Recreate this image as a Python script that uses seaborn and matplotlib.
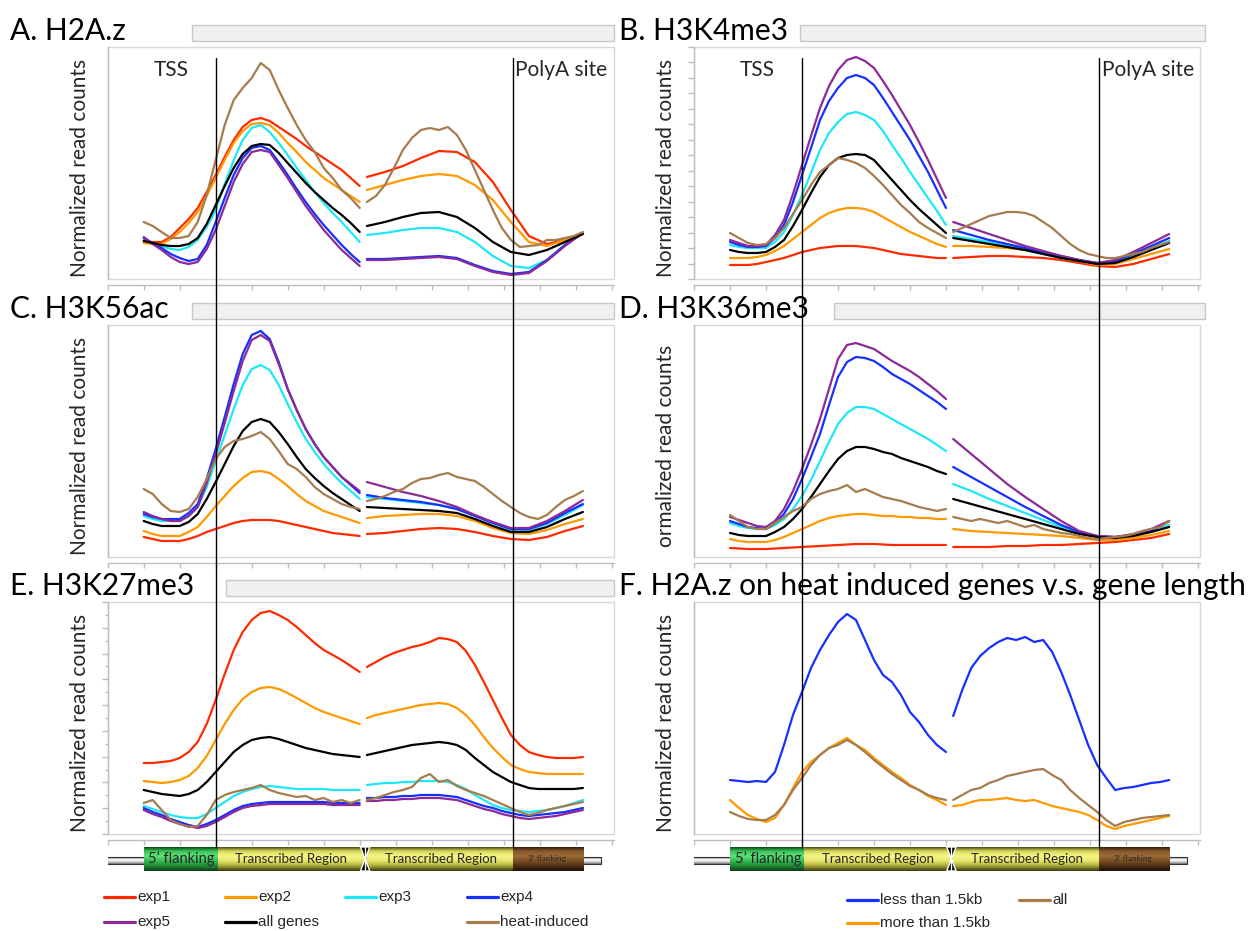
import numpy as np
import pandas as pd
import matplotlib
matplotlib.use("Agg")
import matplotlib.pyplot as plt
import matplotlib.transforms as mtransforms
from matplotlib.patches import Rectangle, Polygon
from matplotlib.lines import Line2D
from matplotlib.colors import LinearSegmentedColormap
import seaborn as sns

# ---------------------------------------------------------------------------
# Metagene bins: 5' flank + first half of the gene body on the left segment,
# second half of the gene body + 3' flank on the right segment.
# ---------------------------------------------------------------------------
BINS_LEFT = np.linspace(1.0, 7.0, 13)
BINS_RIGHT = np.linspace(7.2, 13.2, 13)
BINS_LEFT_FINE = np.linspace(1.0, 7.0, 25)
BINS_RIGHT_FINE = np.linspace(7.2, 13.2, 25)
TSS_BIN = 3.0
POLYA_BIN = 11.25

SERIES = ["exp1", "exp2", "exp3", "exp4", "exp5", "all genes", "heat-induced"]
COLORS = ["#ff2a00", "#ff9900", "#1ee8f5", "#1530ff", "#8c2a98", "#000000", "#a67c4e"]
LENGTH_SERIES = ["less than 1.5kb", "more than 1.5kb", "all"]
LENGTH_COLORS = ["#1530ff", "#ff9900", "#a67c4e"]

# A. H2A.z  (left segment, right segment)
H2AZ_EXP1 = ([37, 37, 37, 42, 51, 60, 71, 87, 104, 122, 139, 152, 159, 161, 158, 152,
              146, 140, 133, 127, 121, 115, 109, 101, 93],
             [102, 107, 113, 121, 128, 127, 117, 97, 69, 43, 35, 39, 46])
H2AZ_EXP2 = ([36, 35, 35, 40, 47, 56, 67, 83, 101, 119, 136, 148, 155, 156, 154, 146,
              136, 127, 117, 109, 101, 95, 89, 83, 77],
             [89, 94, 99, 103, 105, 103, 94, 79, 57, 37, 33, 39, 46])
H2AZ_EXP3 = ([39, 36, 33, 30, 29, 32, 39, 52, 69, 95, 119, 139, 151, 154, 147, 136,
              124, 111, 99, 87, 76, 66, 57, 47, 37],
             [44, 46, 49, 51, 51, 47, 37, 23, 13, 11, 19, 34, 46])
H2AZ_EXP4 = ([41, 36, 31, 25, 21, 18, 20, 34, 57, 81, 104, 121, 131, 133, 129, 117,
              104, 90, 77, 65, 54, 44, 34, 25, 17],
             [20, 20, 21, 22, 23, 21, 14, 8, 5, 7, 19, 34, 46])
H2AZ_EXP5 = ([42, 35, 29, 22, 17, 15, 17, 30, 49, 73, 97, 115, 127, 129, 127, 114,
              101, 87, 73, 61, 49, 39, 29, 21, 13],
             [19, 19, 20, 21, 22, 20, 13, 7, 4, 6, 18, 33, 46])
H2AZ_ALL = ([38, 36, 34, 33, 33, 35, 41, 55, 74, 93, 111, 125, 133, 135, 134, 126,
             116, 106, 96, 87, 79, 71, 64, 56, 47],
            [53, 57, 62, 66, 67, 62, 51, 37, 27, 24, 29, 37, 45])
H2AZ_HEAT = ([57, 53, 47, 41, 41, 43, 57, 84, 119, 154, 179, 191, 201, 216, 209, 189,
              171, 154, 139, 127, 111, 101, 89, 81, 71],
             [77, 83, 94, 111, 129, 141, 149, 151, 149, 152, 144, 129, 109, 89, 69, 51,
              39, 32, 33, 34, 39, 39, 41, 43, 47])

# B. H3K4me3
H3K4_EXP1 = ([14, 14, 14, 15, 17, 19, 21, 24, 27, 29, 31, 32, 33, 33, 33, 32,
              31, 29, 27, 25, 24, 23, 22, 21, 21],
             [21, 22, 23, 23, 22, 21, 19, 16, 13, 12, 15, 20, 25])
H3K4_EXP2 = ([21, 21, 21, 22, 24, 28, 33, 40, 47, 54, 61, 66, 69, 71, 71, 70,
              67, 62, 57, 52, 47, 43, 39, 35, 32],
             [33, 33, 32, 31, 29, 26, 22, 18, 14, 15, 20, 25, 30])
H3K4_EXP3 = ([34, 32, 31, 31, 31, 37, 47, 64, 84, 106, 129, 146, 157, 165, 167, 164,
              159, 148, 134, 121, 107, 94, 81, 68, 54],
             [43, 40, 37, 33, 29, 25, 21, 18, 16, 17, 23, 31, 38])
H3K4_EXP4 = ([37, 34, 32, 32, 33, 41, 54, 77, 104, 131, 159, 178, 191, 201, 204, 201,
              194, 181, 167, 153, 139, 123, 107, 89, 71],
             [49, 44, 39, 35, 31, 27, 23, 19, 16, 18, 25, 33, 41])
H3K4_EXP5 = ([39, 36, 33, 33, 34, 44, 59, 85, 114, 143, 171, 193, 209, 219, 222, 218,
              211, 198, 184, 169, 154, 137, 119, 100, 81],
             [57, 51, 45, 39, 33, 28, 23, 19, 16, 19, 27, 36, 45])
H3K4_ALL = ([29, 27, 26, 26, 27, 32, 39, 53, 69, 86, 102, 114, 121, 124, 125, 124,
             119, 109, 99, 89, 79, 70, 62, 54, 46],
            [41, 38, 35, 32, 29, 25, 21, 18, 15, 16, 22, 29, 36])
H3K4_HEAT = ([46, 41, 36, 34, 35, 41, 51, 65, 79, 94, 107, 114, 121, 119, 116, 111,
              103, 94, 84, 74, 66, 57, 51, 46, 41],
             [47, 51, 55, 59, 63, 65, 67, 67, 66, 63, 57, 51, 43, 35, 29, 25,
              23, 21, 21, 23, 25, 27, 31, 34, 37])

# C. H3K56ac
H3K56_EXP1 = ([20, 18, 16, 16, 16, 18, 21, 25, 28, 31, 34, 36, 37, 37, 37, 36,
               34, 32, 30, 28, 26, 24, 23, 22, 21],
              [23, 24, 26, 28, 29, 28, 25, 21, 18, 17, 20, 26, 31])
H3K56_EXP2 = ([26, 23, 21, 21, 21, 25, 30, 40, 51, 61, 71, 79, 85, 86, 84, 78,
               71, 63, 56, 51, 46, 43, 40, 37, 34],
              [39, 41, 42, 43, 43, 41, 36, 29, 24, 23, 27, 33, 38])
H3K56_EXP3 = ([41, 38, 36, 36, 36, 41, 50, 70, 96, 122, 148, 172, 188, 192, 187, 172,
               153, 135, 118, 105, 93, 83, 74, 66, 58],
              [60, 58, 56, 54, 52, 48, 41, 34, 27, 27, 33, 42, 52])
H3K56_EXP4 = ([43, 40, 38, 38, 38, 44, 53, 78, 108, 140, 173, 203, 222, 226, 218, 195,
               168, 147, 128, 113, 100, 90, 80, 72, 64],
              [62, 59, 57, 55, 52, 48, 41, 34, 28, 28, 34, 44, 53])
H3K56_EXP5 = ([45, 41, 38, 36, 36, 41, 50, 74, 103, 134, 166, 196, 217, 222, 216, 193,
               168, 147, 128, 113, 100, 90, 80, 73, 66],
              [75, 70, 65, 61, 56, 50, 42, 35, 29, 29, 36, 46, 57])
H3K56_ALL = ([36, 33, 31, 31, 31, 35, 43, 58, 75, 93, 111, 126, 135, 138, 135, 125,
              113, 100, 88, 79, 71, 64, 58, 52, 46],
             [50, 49, 48, 47, 46, 44, 38, 31, 25, 25, 30, 38, 45])
H3K56_HEAT = ([68, 63, 53, 46, 45, 48, 60, 78, 98, 110, 116, 118, 121, 125, 118, 106,
               93, 88, 80, 70, 63, 58, 53, 50, 48],
              [56, 58, 61, 65, 68, 74, 78, 79, 82, 84, 80, 78, 76, 70, 63, 56,
               50, 44, 40, 38, 42, 50, 57, 61, 66])

# D. H3K36me3
H3K36_EXP1 = ([9, 8, 8, 9, 10, 11, 12, 13, 13, 12, 12, 12, 12],
              [10, 10, 10, 11, 11, 12, 12, 13, 14, 15, 17, 19, 23])
H3K36_EXP2 = ([18, 16, 15, 15, 15, 17, 20, 24, 28, 32, 36, 39, 41, 42, 43, 43,
               42, 41, 41, 40, 40, 39, 39, 38, 38],
              [28, 26, 25, 24, 23, 22, 21, 19, 17, 17, 19, 22, 26])
H3K36_EXP3 = ([34, 31, 29, 28, 28, 32, 38, 48, 61, 77, 96, 115, 133, 144, 150, 150,
               148, 143, 138, 133, 128, 123, 118, 112, 106],
              [73, 66, 58, 51, 44, 37, 30, 24, 20, 20, 22, 26, 32])
H3K36_EXP4 = ([36, 33, 30, 29, 28, 34, 43, 58, 78, 100, 123, 152, 180, 195, 200, 199,
               196, 190, 183, 178, 173, 167, 161, 155, 148],
              [90, 80, 70, 60, 50, 41, 32, 25, 21, 20, 22, 26, 36])
H3K36_EXP5 = ([40, 37, 34, 31, 30, 36, 48, 66, 88, 112, 138, 168, 198, 212, 214, 211,
               208, 202, 196, 191, 186, 180, 173, 166, 158],
              [118, 103, 88, 73, 60, 48, 36, 26, 21, 20, 23, 28, 36])
H3K36_ALL = ([24, 22, 21, 21, 21, 25, 30, 38, 48, 60, 73, 86, 98, 106, 110, 110,
              108, 105, 103, 99, 96, 93, 90, 86, 83],
             [58, 53, 48, 43, 38, 33, 28, 23, 20, 19, 21, 25, 30])
H3K36_HEAT = ([42, 36, 30, 28, 28, 34, 40, 46, 50, 58, 63, 66, 68, 72, 65, 68,
               64, 60, 58, 56, 53, 50, 48, 46, 48],
              [40, 38, 36, 38, 36, 34, 36, 33, 30, 32, 28, 26, 24, 23, 21, 19,
               18, 19, 20, 21, 23, 26, 28, 30, 36])

# E. H3K27me3
H3K27_EXP1 = ([71, 71, 72, 73, 76, 82, 92, 110, 134, 160, 184, 202, 214, 221, 223, 219,
               214, 207, 199, 191, 184, 179, 174, 168, 162],
              [167, 172, 177, 181, 184, 187, 189, 192, 196, 195, 192, 183, 169, 152, 134, 116,
               99, 89, 82, 79, 77, 76, 76, 76, 77])
H3K27_EXP2 = ([53, 52, 51, 52, 54, 58, 66, 78, 94, 110, 124, 135, 142, 146, 147, 145,
               141, 136, 131, 126, 122, 119, 116, 113, 110],
              [116, 119, 121, 123, 125, 127, 129, 130, 131, 130, 126, 119, 109, 97, 86, 77,
               69, 65, 62, 61, 60, 60, 60, 60, 60])
H3K27_EXP3 = ([28, 25, 22, 19, 17, 16, 16, 20, 26, 32, 38, 42, 45, 47, 48, 47,
               46, 45, 45, 45, 45, 44, 44, 44, 44],
              [49, 50, 51, 51, 52, 52, 53, 53, 53, 52, 49, 45, 39, 34, 29, 26,
               24, 23, 22, 23, 24, 26, 28, 31, 34])
H3K27_EXP4 = ([26, 22, 19, 15, 12, 9, 7, 10, 14, 19, 24, 28, 30, 31, 32, 32,
               32, 32, 32, 32, 32, 31, 31, 31, 31],
              [36, 36, 37, 37, 38, 38, 39, 39, 39, 38, 37, 34, 31, 28, 26, 23,
               21, 19, 18, 19, 20, 21, 22, 24, 26])
H3K27_EXP5 = ([24, 20, 17, 13, 10, 8, 6, 8, 12, 17, 22, 26, 28, 29, 30, 30,
               30, 30, 30, 30, 30, 29, 29, 29, 29],
              [33, 33, 34, 34, 35, 35, 36, 36, 36, 35, 34, 31, 28, 25, 23, 20,
               18, 16, 15, 16, 17, 18, 20, 22, 24])
H3K27_ALL = ([44, 42, 40, 39, 38, 40, 44, 52, 62, 72, 82, 89, 94, 96, 97, 95,
              92, 89, 86, 84, 82, 80, 79, 78, 77],
             [79, 81, 83, 85, 87, 89, 90, 91, 92, 91, 89, 84, 76, 69, 62, 57,
              52, 49, 46, 45, 45, 45, 45, 45, 46])
H3K27_HEAT = ([31, 34, 24, 14, 10, 7, 8, 19, 34, 39, 42, 44, 46, 49, 44, 41,
               39, 37, 38, 34, 36, 32, 34, 31, 34],
              [34, 36, 39, 42, 44, 47, 56, 60, 52, 54, 48, 44, 41, 38, 34, 30,
               26, 22, 19, 21, 24, 26, 28, 30, 32])

# F. H2A.z on heat induced genes, split by gene length
LEN_SHORT = ([54, 53, 52, 53, 52, 62, 89, 119, 142, 166, 184, 199, 212, 220, 214, 194,
              174, 159, 152, 139, 122, 112, 99, 89, 82],
             [118, 144, 166, 178, 186, 192, 196, 194, 197, 192, 194, 182, 162, 139, 114, 89,
              69, 56, 44, 46, 47, 49, 51, 52, 54])
LEN_LONG = ([34, 26, 19, 15, 12, 16, 29, 46, 62, 72, 79, 86, 91, 96, 89, 84,
             76, 69, 62, 56, 49, 44, 38, 34, 29],
            [28, 29, 32, 34, 34, 35, 36, 34, 33, 34, 31, 28, 26, 24, 22, 19,
             14, 8, 5, 8, 10, 12, 14, 16, 18])
LEN_ALL = ([22, 18, 15, 14, 14, 19, 29, 44, 56, 69, 79, 86, 89, 94, 89, 82,
            74, 67, 60, 54, 48, 44, 39, 36, 34],
           [34, 39, 44, 46, 51, 54, 58, 60, 62, 64, 65, 59, 54, 44, 36, 29,
            22, 14, 8, 12, 14, 16, 17, 18, 19])

PANELS = [
    dict(title="A. H2A.z", ylabel="Normalized read counts", col=0, row=0, marks=True,
         yticks=None, bar=(192, 614),
         data=dict(zip(SERIES, [H2AZ_EXP1, H2AZ_EXP2, H2AZ_EXP3, H2AZ_EXP4, H2AZ_EXP5,
                                H2AZ_ALL, H2AZ_HEAT]))),
    dict(title="B. H3K4me3", ylabel="Normalized read counts", col=1, row=0, marks=True,
         yticks=(15, 0), bar=(800, 1205),
         data=dict(zip(SERIES, [H3K4_EXP1, H3K4_EXP2, H3K4_EXP3, H3K4_EXP4, H3K4_EXP5,
                                H3K4_ALL, H3K4_HEAT]))),
    dict(title="C. H3K56ac", ylabel="Normalized read counts", col=0, row=1, marks=False,
         yticks=None, bar=(192, 614),
         data=dict(zip(SERIES, [H3K56_EXP1, H3K56_EXP2, H3K56_EXP3, H3K56_EXP4, H3K56_EXP5,
                                H3K56_ALL, H3K56_HEAT]))),
    dict(title="D. H3K36me3", ylabel="ormalized read counts", col=1, row=1, marks=False,
         yticks=None, bar=(834, 1205),
         data=dict(zip(SERIES, [H3K36_EXP1, H3K36_EXP2, H3K36_EXP3, H3K36_EXP4, H3K36_EXP5,
                                H3K36_ALL, H3K36_HEAT]))),
    dict(title="E. H3K27me3", ylabel="Normalized read counts", col=0, row=2, marks=False,
         yticks=(9, 18), bar=(226, 614),
         data=dict(zip(SERIES, [H3K27_EXP1, H3K27_EXP2, H3K27_EXP3, H3K27_EXP4, H3K27_EXP5,
                                H3K27_ALL, H3K27_HEAT]))),
    dict(title="F. H2A.z on heat induced genes v.s. gene length",
         ylabel="Normalized read counts", col=1, row=2, marks=False,
         yticks=None, bar=None,
         data=dict(zip(LENGTH_SERIES, [LEN_SHORT, LEN_LONG, LEN_ALL]))),
]

# ---------------------------------------------------------------------------
sns.set_theme(style="white")
plt.rcParams["font.family"] = ["Lato", "DejaVu Sans"]

W, H = 1258, 931
fig = plt.figure(figsize=(W / 100, H / 100), dpi=100)
fig.patch.set_facecolor("white")

COL_LEFT = [107.7, 694.0]
AX_W = 505.8
ROW_TOP = [47, 325, 602]
AX_H = 232
XMAX = 14.05
YMAX = 232
FRAME = "#d9d9d9"
AXIS = "#bdbdbd"


def fig_rect(left, top, width, height):
    return [left / W, 1 - (top + height) / H, width / W, height / H]


def long_table(series):
    rows = []
    for name, (left, right) in series.items():
        for seg, vals in (("L", left), ("R", right)):
            if seg == "L":
                xs = BINS_LEFT if len(vals) == 13 else BINS_LEFT_FINE
            else:
                xs = BINS_RIGHT if len(vals) == 13 else BINS_RIGHT_FINE
            for xv, yv in zip(xs, vals):
                rows.append((name, name + "_" + seg, xv, yv))
    return pd.DataFrame(rows, columns=["series", "segment", "bin", "signal"])


col_axes = {0: [], 1: []}
for p in PANELS:
    left = COL_LEFT[p["col"]]
    top = ROW_TOP[p["row"]]
    ax = fig.add_axes(fig_rect(left, top, AX_W, AX_H))
    col_axes[p["col"]].append(ax)
    df = long_table(p["data"])
    names = list(p["data"].keys())
    if names == LENGTH_SERIES:
        pal = dict(zip(LENGTH_SERIES, LENGTH_COLORS))
    else:
        pal = dict(zip(SERIES, COLORS))
    sns.lineplot(data=df, x="bin", y="signal", hue="series", hue_order=names,
                 units="segment", estimator=None, sort=False, palette=pal,
                 linewidth=1.6, legend=False, ax=ax)
    ax.set_xlim(0, XMAX)
    ax.set_ylim(0, YMAX)
    ax.set_xlabel("")
    ax.set_ylabel("")
    ax.set_facecolor("none")
    for side in ("top", "right"):
        ax.spines[side].set_visible(False)
    ax.add_patch(Rectangle((0, 0), 1, 1, transform=ax.transAxes, fill=False,
                           edgecolor=FRAME, lw=1.0, clip_on=False, zorder=0))
    ax.spines["bottom"].set_position(("outward", 4.3))
    ax.spines["bottom"].set_color(AXIS)
    ax.spines["bottom"].set_linewidth(1.0)
    ax.spines["left"].set_color(AXIS)
    ax.spines["left"].set_linewidth(1.0)
    ax.set_xticks(np.arange(0, 15))
    ax.tick_params(axis="x", direction="out", length=3.5, width=1.0, color=AXIS,
                   labelbottom=False, bottom=True)
    if p["yticks"]:
        n_major, n_minor = p["yticks"]
        ax.set_yticks(np.linspace(0, YMAX, n_major + 1))
        if n_minor:
            ax.set_yticks(np.linspace(0, YMAX, n_minor + 1), minor=True)
        ax.tick_params(axis="y", which="major", direction="out", length=4, width=1.0,
                       color=AXIS, labelleft=False, left=True)
        ax.tick_params(axis="y", which="minor", direction="out", length=2.5, width=1.0,
                       color=AXIS, left=True)
    else:
        ax.set_yticks([])

    # panel title with grey title strip
    base = top - 7
    if p["bar"]:
        x0, x1 = p["bar"]
        fig.add_artist(Rectangle((x0 / W, 1 - (base + 1) / H), (x1 - x0) / W, 16 / H,
                                 transform=fig.transFigure, facecolor="#f0f0f0",
                                 edgecolor="#c8c8c8", lw=1.0))
    fig.text((10 if p["col"] == 0 else 619) / W, 1 - base / H, p["title"],
             fontsize=21.5, color="black", ha="left", va="baseline")
    fig.text((80 if p["col"] == 0 else 666) / W, 1 - (top + AX_H / 2 + 5) / H,
             p["ylabel"], rotation=90, fontsize=15, ha="center", va="center")
    if p["marks"]:
        ax.text(1.77, 209, "TSS", fontsize=15, ha="center", va="center")
        ax.text(11.32, 209, "PolyA site", fontsize=15, ha="left", va="center",
                clip_on=False)

# ---------------------------------------------------------------------------
# Gene model drawn under each column
def gradient(ax, x0, x1, y0, y1, colors, z=2):
    cmap = LinearSegmentedColormap.from_list("g", colors)
    ax.imshow(np.linspace(0, 1, 64).reshape(-1, 1), cmap=cmap, aspect="auto",
              extent=(x0, x1, y0, y1), origin="upper", zorder=z, interpolation="bicubic")


GREEN = ["#062a0e", "#39c456", "#5ee27b", "#34b851", "#1f8a37", "#0c3d18"]
YELLOW = ["#2a2a08", "#d9d95a", "#f6f68a", "#e6e66a", "#a8a83a", "#3a3a10"]
BROWN = ["#1e0f04", "#8a5a2c", "#9a6a38", "#7a4e24", "#4e2f12", "#1e0f04"]
ROD = ["#444444", "#e8e8e8", "#ffffff", "#bdbdbd", "#6a6a6a"]

for col, left in enumerate(COL_LEFT):
    gax = fig.add_axes(fig_rect(left, 847, AX_W, 24))
    gax.set_xlim(0, XMAX)
    gax.set_ylim(0, 1)
    gax.axis("off")
    gradient(gax, -0.09, 13.7, 0.29, 0.58, ROD, z=1)
    gax.add_patch(Rectangle((-0.09, 0.29), 13.79, 0.29, fill=False, edgecolor="#333333",
                            lw=0.8, zorder=1.5))
    gradient(gax, 1.0, TSS_BIN + 0.05, 0, 1, GREEN)
    gradient(gax, TSS_BIN + 0.05, 7.1, 0, 1, YELLOW)
    gradient(gax, 7.2, POLYA_BIN, 0, 1, YELLOW)
    gradient(gax, POLYA_BIN, 13.2, 0, 1, BROWN)
    gax.add_patch(Polygon([(7.02, 1), (7.28, 1), (7.15, 0.5), (7.28, 0), (7.02, 0),
                           (7.15, 0.5)], closed=True, facecolor="black", zorder=3))
    gax.plot([7.15, 7.15], [0, 1], color="white", lw=1.0, zorder=4)
    gax.text(2.05, 0.5, "5’ flanking", fontsize=10.5, ha="center", va="center", zorder=5)
    gax.text(5.1, 0.5, "Transcribed Region", fontsize=9.5, ha="center", va="center", zorder=5)
    gax.text(9.25, 0.5, "Transcribed Region", fontsize=9.5, ha="center", va="center", zorder=5)
    gax.text(12.2, 0.5, "3’ flanking", fontsize=6, ha="center", va="center", zorder=5)

    # TSS and PolyA reference lines running through the whole column
    ref = col_axes[col][0]
    tr = mtransforms.blended_transform_factory(ref.transData, fig.transFigure)
    for xv in (TSS_BIN, POLYA_BIN):
        fig.add_artist(Line2D([xv, xv], [1 - 58 / H, 1 - 847 / H], transform=tr,
                              color="black", lw=1.0, zorder=10))

# ---------------------------------------------------------------------------
# Legends
LEG_FONT = ["Liberation Sans", "DejaVu Sans"]


def legend_entry(x, y, color, label):
    fig.add_artist(Line2D([x / W, (x + 31) / W], [1 - y / H, 1 - y / H],
                          transform=fig.transFigure, color=color, lw=2.3))
    fig.text((x + 33) / W, 1 - y / H, label, fontsize=11, family=LEG_FONT,
             ha="left", va="center")


LEG_POS = [(104, 897), (225, 897), (345, 897), (467, 897), (104, 922), (225, 922), (467, 922)]
for (x, y), name, c in zip(LEG_POS, SERIES, COLORS):
    legend_entry(x, y, c, name)
LEN_POS = [(847, 900), (847, 923), (1019, 900)]
for (x, y), name, c in zip(LEN_POS, LENGTH_SERIES, LENGTH_COLORS):
    legend_entry(x, y, c, name)

fig.savefig("out.png", dpi=100, facecolor="white")
